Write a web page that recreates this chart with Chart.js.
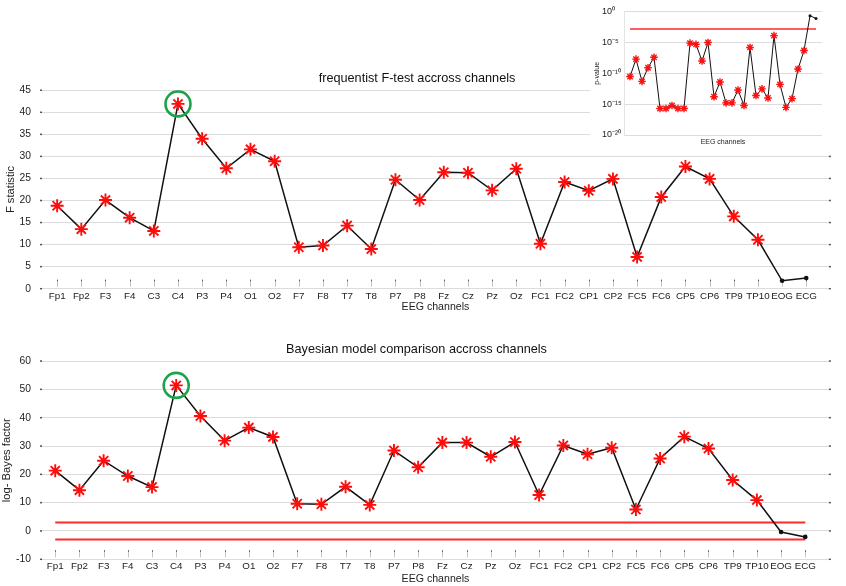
<!DOCTYPE html>
<html>
<head>
<meta charset="utf-8">
<script src="https://cdn.jsdelivr.net/npm/chart.js@4.4.1/dist/chart.umd.min.js"></script>
<style>
  html, body { margin: 0; padding: 0; background: #fff; overflow: hidden; }
  canvas { position: absolute; display: block; }
  #fchart { left: 0; top: 0; }
  #bchart { left: 0; top: 320px; }
  #pchart { left: 590px; top: 0; background: #fff; }
</style>
</head>
<body>
<canvas id="fchart" width="846" height="320"></canvas>
<canvas id="bchart" width="846" height="266"></canvas>
<canvas id="pchart" width="256" height="150"></canvas>
<script>
const channels = ['Fp1','Fp2','F3','F4','C3','C4','P3','P4','O1','O2','F7','F8','T7','T8','P7','P8',
                  'Fz','Cz','Pz','Oz','FC1','FC2','CP1','CP2','FC5','FC6','CP5','CP6','TP9','TP10','EOG','ECG'];
const fStat = [18.8, 13.5, 20.1, 16.1, 13.1, 41.9, 34.0, 27.3, 31.6, 28.9, 9.4, 9.8, 14.3, 9.0, 24.7, 20.1,
               26.4, 26.3, 22.3, 27.2, 10.2, 24.2, 22.2, 24.9, 7.2, 20.8, 27.7, 24.9, 16.4, 11.1, 1.8, 2.4];
const logBF = [21.3, 14.4, 24.8, 19.4, 15.5, 51.4, 40.6, 31.9, 36.5, 33.2, 9.6, 9.4, 15.6, 9.2, 28.4, 22.5,
               31.2, 31.2, 26.2, 31.4, 12.7, 30.2, 27.1, 29.4, 7.6, 25.6, 33.3, 29.1, 18.0, 10.9, -0.35, -2.1];
const pValues = [3e-11, 2e-8, 5e-12, 8e-10, 4e-8, 2e-16, 2e-16, 6e-16, 2e-16, 2e-16, 8e-6, 5e-6, 1e-8, 1e-5,
                 1.6e-14, 4e-12, 1.6e-15, 1.6e-15, 2e-13, 6e-16, 1.6e-6, 2.5e-14, 3e-13, 1e-14, 1.3e-4,
                 1.6e-12, 3e-16, 8e-15, 5e-10, 5e-7, 0.22, 0.08];
const notSignificant = ['EOG', 'ECG'];
const bestChannel = 'C4';
const bfThresholds = [3, -3];
const pThreshold = 0.0016;
const fTicks = [0, 45, 5];
const bfTicks = [-10, 60, 10];
const pTicks = [1e-20, 1e-15, 1e-10, 1e-5, 1];

const FONT = 'Liberation Sans, Arial, sans-serif';
const GRID = '#dcdcdc';

// small marks inside the plot box, like the original figure
const innerTicks = {
  id: 'innerTicks',
  beforeDatasetsDraw(chart) {
    const {ctx, chartArea: a, scales: {x, y}} = chart;
    ctx.save();
    x.ticks.forEach(t => {
      const px = Math.round(x.getPixelForValue(t.value)) + 0.5;
      ctx.strokeStyle = '#c4c4c4';
      ctx.lineWidth = 1;
      ctx.beginPath();
      ctx.moveTo(px, a.bottom - 9);
      ctx.lineTo(px, a.bottom - 2);
      ctx.stroke();
      ctx.fillStyle = '#555';
      ctx.fillRect(px - 0.5, a.bottom - 9, 1, 1.5);
    });
    y.ticks.forEach(t => {
      const py = y.getPixelForValue(t.value);
      ctx.fillStyle = '#555';
      ctx.fillRect(a.left, py - 0.75, 2, 1.5);
      ctx.fillRect(a.right - 2, py - 0.75, 2, 1.5);
    });
    ctx.restore();
  }
};

function pts(values) {
  return values.map((v, i) => ({x: i + 1, y: v}));
}
function sigPts(values) {
  return values.map((v, i) => ({x: i + 1, y: notSignificant.includes(channels[i]) ? null : v}));
}
function hLine(v) {
  return [{x: 1, y: v}, {x: channels.length, y: v}];
}

function mainChart(id, values, opt) {
  const bi = channels.indexOf(bestChannel);
  const datasets = [
    { data: [{x: bi + 1, y: values[bi]}], showLine: false, pointStyle: 'circle', pointRadius: 12.5,
      pointBorderWidth: 2.6, pointBorderColor: '#1aa34a', pointBackgroundColor: 'rgba(0,0,0,0)' },
    { data: sigPts(values), showLine: false, pointStyle: 'star', pointRadius: 6.5,
      pointBorderWidth: 1.9, pointBorderColor: '#ff0d0d', pointBackgroundColor: '#ff0d0d' },
    { data: pts(values), borderColor: '#111', borderWidth: 1.5, pointRadius: 2.3,
      pointBackgroundColor: '#111', pointBorderWidth: 0, tension: 0 }
  ];
  (opt.thresholds || []).forEach(t => {
    datasets.push({ data: hLine(t), borderColor: '#ff2a2a', borderWidth: 2, pointRadius: 0 });
  });
  return new Chart(document.getElementById(id), {
    type: 'line',
    data: { datasets },
    plugins: [innerTicks],
    options: {
      responsive: false,
      animation: false,
      events: [],
      layout: { padding: { top: 0, right: opt.rightPad, bottom: 0, left: 0 } },
      plugins: {
        legend: { display: false },
        tooltip: { enabled: false },
        title: {
          display: true, text: opt.title, color: '#111',
          font: { family: FONT, size: 12.7, weight: 'normal', lineHeight: 1.2 },
          padding: { top: opt.titleTop, bottom: opt.titleBottom }
        }
      },
      scales: {
        x: {
          type: 'linear', min: opt.xmin, max: opt.xmax,
          afterBuildTicks: s => { s.ticks = channels.map((c, i) => ({value: i + 1})); },
          afterFit: s => { s.height = opt.xHeight; },
          grid: { display: false, drawTicks: false, tickLength: 0 },
          border: { display: false },
          ticks: {
            autoSkip: false, maxRotation: 0, padding: 1.6, color: '#222',
            font: { family: FONT, size: 9.8 },
            callback: v => channels[v - 1] || ''
          },
          title: {
            display: true, text: 'EEG channels', color: '#222',
            font: { family: FONT, size: 10.6, lineHeight: 1.2 },
            padding: { top: 0, bottom: opt.xTitleBottom }
          }
        },
        y: {
          min: opt.yticks[0], max: opt.yticks[1],
          afterFit: s => { s.width = 40; },
          grid: { color: GRID, lineWidth: 1, drawTicks: false, tickLength: 0 },
          border: { display: false },
          ticks: { stepSize: opt.yticks[2], padding: 9, color: '#222', font: { family: FONT, size: 10.3 } },
          title: {
            display: true, text: opt.yTitle, color: '#222',
            font: { family: FONT, size: 11.2, lineHeight: 1.2 },
            padding: { top: opt.yTitlePad, bottom: 0 }
          }
        }
      }
    }
  });
}

mainChart('fchart', fStat, {
  title: 'frequentist F-test accross channels', yTitle: 'F statistic', yticks: fTicks,
  xmin: 0.29, xmax: 33.02, rightPad: 12, titleTop: 70.4, titleBottom: 4.6,
  xHeight: 31.3, xTitleBottom: 6.2, yTitlePad: 4.3
});

mainChart('bchart', logBF, {
  title: 'Bayesian model comparison accross channels', yTitle: 'log- Bayes factor', yticks: bfTicks,
  thresholds: bfThresholds,
  xmin: 0.37, xmax: 33.06, rightPad: 13, titleTop: 21.7, titleBottom: 4.1,
  xHeight: 26.7, xTitleBottom: 0.4, yTitlePad: 0.4
});

// inset: p-values on a log axis
const sup = {'0':'⁰','1':'¹','2':'²','5':'⁵','-':'⁻'};
new Chart(document.getElementById('pchart'), {
  type: 'line',
  data: {
    datasets: [
      { data: sigPts(pValues), showLine: false, pointStyle: 'star', pointRadius: 3.8,
        pointBorderWidth: 1.4, pointBorderColor: '#ff1010', pointBackgroundColor: '#ff1010' },
      { data: pts(pValues), borderColor: '#111', borderWidth: 1, pointRadius: 1.5,
        pointBackgroundColor: '#111', pointBorderWidth: 0 },
      { data: hLine(pThreshold), borderColor: '#ff2a2a', borderWidth: 1.5, pointRadius: 0 }
    ]
  },
  options: {
    responsive: false,
    animation: false,
    events: [],
    layout: { padding: { top: 11.7, right: 24, bottom: 0, left: 12 } },
    plugins: { legend: { display: false }, tooltip: { enabled: false } },
    scales: {
      x: {
        type: 'linear', min: 0, max: 33,
        afterFit: s => { s.height = 15; },
        grid: { display: false, drawTicks: false, tickLength: 0 },
        border: { display: false },
        ticks: { display: false },
        title: {
          display: true, text: 'EEG channels', color: '#222',
          font: { family: FONT, size: 7, lineHeight: 1.2 },
          padding: { top: 0, bottom: 3.8 }
        }
      },
      y: {
        type: 'logarithmic', min: pTicks[0], max: pTicks[pTicks.length - 1],
        afterBuildTicks: s => { s.ticks = pTicks.map(v => ({value: v})); },
        afterFit: s => { s.width = 22; },
        grid: { color: GRID, lineWidth: 1, drawTicks: false, tickLength: 0 },
        border: { display: true, color: '#e4e4e4' },
        ticks: {
          crossAlign: 'far', padding: 0, color: '#222', font: { family: FONT, size: 9 },
          callback: v => '10' + String(Math.round(Math.log10(v))).split('').map(c => sup[c]).join('')
        },
        title: {
          display: true, text: 'p-value', color: '#222',
          font: { family: FONT, size: 7, lineHeight: 1.2 },
          padding: { top: -9.2, bottom: 0 }
        }
      }
    }
  }
});
</script>
</body>
</html>
